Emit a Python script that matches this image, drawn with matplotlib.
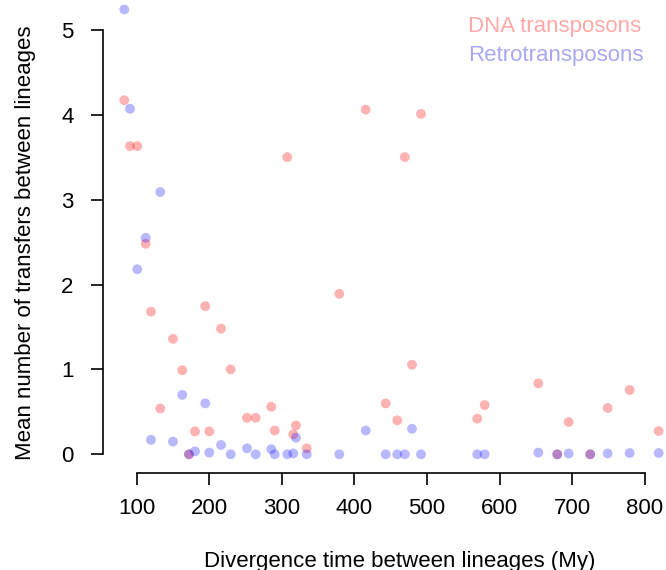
import numpy as np
import matplotlib.pyplot as plt

plt.rcParams['font.family'] = ['Liberation Sans', 'DejaVu Sans']

# Divergence time between lineages (My)
divergence = [82.9, 90.8, 100.8, 112.4, 119.7, 132.5, 150.0, 162.8, 172.0, 180.3,
              194.5, 200.0, 216.2, 229.5, 252.0, 264.0, 285.5, 290.2, 307.5, 315.8,
              319.5, 334.3, 379.2, 415.6, 443.1, 459.1, 469.5, 479.4, 491.8, 569.3,
              579.5, 653.4, 679.6, 695.3, 725.0, 749.0, 779.3, 819.3]

# Mean number of transfers, DNA transposons
dna = [4.17, 3.63, 3.63, 2.48, 1.68, 0.54, 1.36, 0.99, 0.00, 0.27,
       1.745, 0.27, 1.48, 1.00, 0.43, 0.43, 0.56, 0.28, 3.50, 0.235,
       0.34, 0.07, 1.89, 4.06, 0.60, 0.40, 3.50, 1.055, 4.01, 0.42,
       0.58, 0.835, 0.00, 0.38, 0.00, 0.545, 0.757, 0.274]

# Mean number of transfers, retrotransposons
retro = [5.24, 4.07, 2.18, 2.55, 0.17, 3.09, 0.15, 0.70, 0.00, 0.035,
         0.60, 0.02, 0.11, 0.00, 0.07, 0.00, 0.06, 0.00, 0.00, 0.01,
         0.195, 0.00, 0.00, 0.28, 0.00, 0.00, 0.00, 0.30, 0.00, 0.00,
         0.00, 0.02, 0.00, 0.01, 0.00, 0.01, 0.015, 0.015]

x_ticks = [100, 200, 300, 400, 500, 600, 700, 800]
y_ticks = [0, 1, 2, 3, 4, 5]

pink = (1.0, 0.0, 0.0, 0.30)
blue = (0.0, 0.0, 1.0, 0.28)

W, H = 666, 570
fig = plt.figure(figsize=(W / 100, H / 100), dpi=100)
ax = fig.add_axes([102.5 / W, 97.3 / H, 579.9 / W, 481.1 / H])
ax.set_xlim(52.9, 852)
ax.set_ylim(-0.2167, 5.45)
ax.patch.set_visible(False)

ax.scatter(divergence, dna, s=50, color=pink, edgecolors='none', clip_on=False)
ax.scatter(divergence, retro, s=50, color=blue, edgecolors='none', clip_on=False)

# R-style detached axes
for side in ['top', 'right']:
    ax.spines[side].set_visible(False)
ax.spines['left'].set_bounds(0, 5)
ax.spines['bottom'].set_bounds(100, 800)
for side in ['left', 'bottom']:
    ax.spines[side].set_linewidth(1.2)

ax.set_xticks(x_ticks)
ax.set_yticks(y_ticks)
ax.tick_params(axis='both', direction='out', length=8.9, width=1.2, labelsize=16)
ax.tick_params(axis='x', pad=9)
ax.tick_params(axis='y', pad=12)

fig.text(400 / W, 1 - 561 / H, "Divergence time between lineages (My)",
         ha='center', va='center', fontsize=16)
fig.text(26 / W, 1 - 243 / H, "Mean number of transfers between lineages",
         ha='center', va='center', rotation=90, fontsize=16)

# legend as coloured text
fig.text(468 / W, 1 - 32 / H, "DNA transposons", ha='left', va='baseline',
         fontsize=16, color=(1.0, 0.66, 0.66))
fig.text(468 / W, 1 - 61 / H, "Retrotransposons", ha='left', va='baseline',
         fontsize=16, color=(0.66, 0.66, 0.95))

fig.savefig("out.png", dpi=100)
